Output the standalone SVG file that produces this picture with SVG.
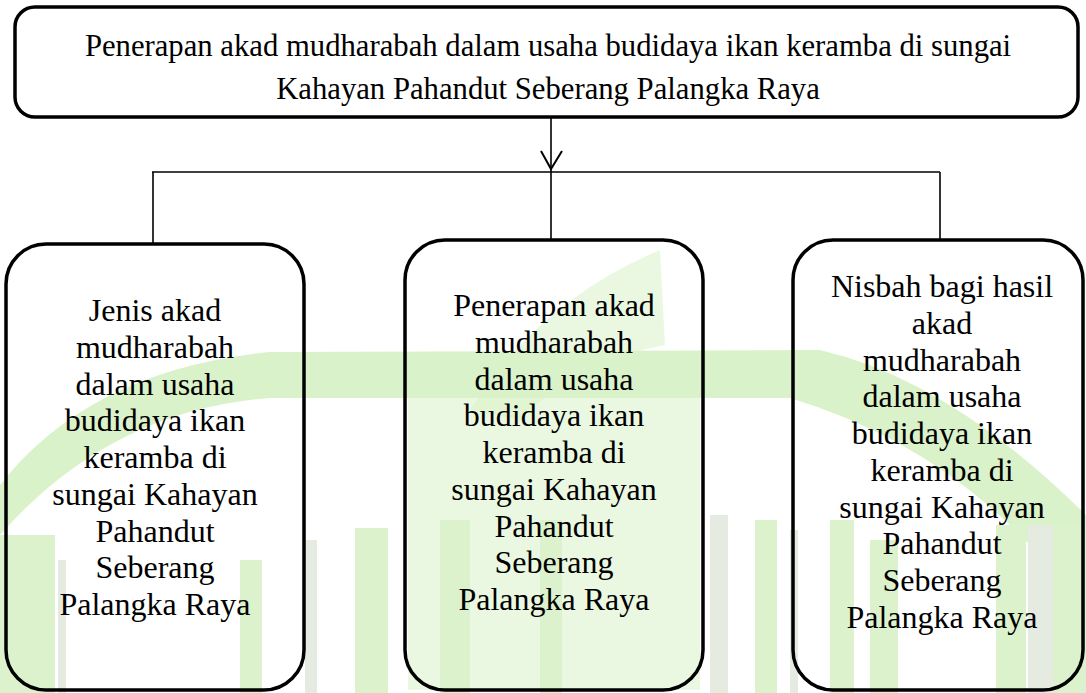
<svg xmlns="http://www.w3.org/2000/svg" width="1086" height="693" viewBox="0 0 1086 693">
<style>
.box{fill:none;stroke:#000;stroke-width:3.5}
.t{font-family:"Liberation Serif","Times New Roman",serif;font-size:32px;fill:#000;text-anchor:middle}
.tt{font-family:"Liberation Serif","Times New Roman",serif;font-size:30.7px;fill:#000;text-anchor:middle}
.ln{fill:none;stroke:#000;stroke-width:1.6}
.wm{fill:#daf2c9}
.wb{fill:#dcf2cc}
.wg{fill:#e6ebe2}
</style>
<rect width="1086" height="693" fill="#fff"/>
<g id="watermark">
<path class="wm" d="M270,352 L820,350 Q950,380 1086,515 L1086,560 L1030,545 Q930,440 790,398 L270,398 Q110,410 0,535 L0,485 Q90,370 270,352 Z"/>
<path class="wm" opacity="0.55" d="M470,410 Q540,300 660,250 L665,345 Q580,360 520,420 Z"/>
<rect class="wm" opacity="0.55" x="408" y="398" width="292" height="292"/>
<rect class="wb" x="0" y="535" width="55" height="158"/>
<rect class="wg" x="58" y="560" width="8" height="133"/>
<rect class="wb" x="240" y="560" width="22" height="133"/>
<rect class="wg" x="305" y="540" width="12" height="153"/>
<rect class="wb" x="355" y="528" width="33" height="165"/>
<rect class="wb" x="440" y="520" width="30" height="173"/>
<rect class="wb" x="540" y="520" width="22" height="173"/>
<rect class="wg" x="710" y="515" width="18" height="178"/>
<rect class="wb" x="755" y="520" width="22" height="173"/>
<rect class="wg" x="790" y="530" width="8" height="163"/>
<rect class="wb" x="830" y="520" width="24" height="173"/>
<rect class="wb" x="870" y="540" width="28" height="153"/>
<rect class="wb" x="996" y="525" width="30" height="168"/>
<rect class="wg" x="1028" y="525" width="25" height="168"/>
<rect class="wb" x="1053" y="525" width="33" height="168"/>
</g>
<g id="connectors">
<line class="ln" x1="551" y1="117" x2="551" y2="172"/>
<path d="M541,151 L551,169 L562,151" fill="none" stroke="#000" stroke-width="2"/>
<line class="ln" x1="152" y1="172" x2="940" y2="172"/>
<line class="ln" x1="153" y1="172" x2="153" y2="244"/>
<line class="ln" x1="551" y1="172" x2="551" y2="240"/>
<line class="ln" x1="940" y1="172" x2="940" y2="240"/>
</g>
<g id="top">
<rect class="box" x="15" y="7" width="1063" height="110" rx="20"/>
<text class="tt" x="548" y="56">Penerapan akad mudharabah dalam usaha budidaya ikan keramba di sungai</text>
<text class="tt" x="548" y="99">Kahayan Pahandut Seberang Palangka Raya</text>
</g>
<g id="left">
<rect class="box" x="6" y="244" width="298" height="446" rx="40"/>
<text class="t" x="155" y="321">Jenis akad</text>
<text class="t" x="155" y="357.75">mudharabah</text>
<text class="t" x="155" y="394.5">dalam usaha</text>
<text class="t" x="155" y="431.25">budidaya ikan</text>
<text class="t" x="155" y="468">keramba di</text>
<text class="t" x="155" y="504.75">sungai Kahayan</text>
<text class="t" x="155" y="541.5">Pahandut</text>
<text class="t" x="155" y="578.25">Seberang</text>
<text class="t" x="155" y="615">Palangka Raya</text>
</g>
<g id="middle">
<rect class="box" x="405" y="240" width="298" height="450" rx="40"/>
<text class="t" x="554" y="316">Penerapan akad</text>
<text class="t" x="554" y="352.75">mudharabah</text>
<text class="t" x="554" y="389.5">dalam usaha</text>
<text class="t" x="554" y="426.25">budidaya ikan</text>
<text class="t" x="554" y="463">keramba di</text>
<text class="t" x="554" y="499.75">sungai Kahayan</text>
<text class="t" x="554" y="536.5">Pahandut</text>
<text class="t" x="554" y="573.25">Seberang</text>
<text class="t" x="554" y="610">Palangka Raya</text>
</g>
<g id="right">
<rect class="box" x="793" y="240" width="290" height="450" rx="40"/>
<text class="t" x="942" y="297">Nisbah bagi hasil</text>
<text class="t" x="942" y="333.75">akad</text>
<text class="t" x="942" y="370.5">mudharabah</text>
<text class="t" x="942" y="407.25">dalam usaha</text>
<text class="t" x="942" y="444">budidaya ikan</text>
<text class="t" x="942" y="480.75">keramba di</text>
<text class="t" x="942" y="517.5">sungai Kahayan</text>
<text class="t" x="942" y="554.25">Pahandut</text>
<text class="t" x="942" y="591">Seberang</text>
<text class="t" x="942" y="627.75">Palangka Raya</text>
</g>
</svg>
